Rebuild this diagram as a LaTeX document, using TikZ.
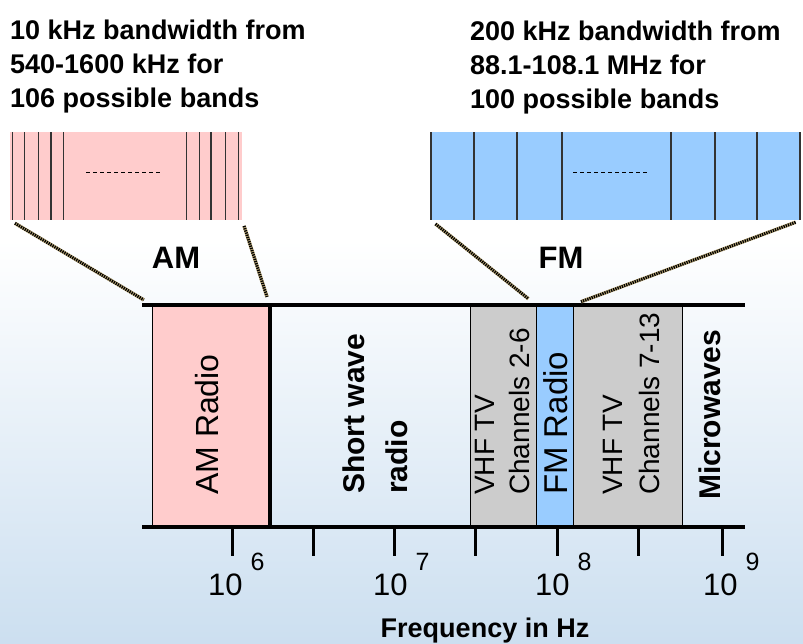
\documentclass[tikz,border=0pt]{standalone}
\usepackage{fontspec}
\setmainfont{Liberation Sans}
\usetikzlibrary{arrows.meta,positioning,calc}
\definecolor{amred}{RGB}{255,204,204}
\definecolor{fmblue}{RGB}{153,204,255}
\definecolor{tvgray}{RGB}{204,204,204}
\definecolor{bgblue}{RGB}{204,223,240}
\definecolor{shadetan}{RGB}{190,170,120}
\newcommand{\setfs}[2]{\fontsize{#1}{#2}\selectfont}
\newcommand{\tenpow}[1]{10\hspace{8pt}\raisebox{25pt}{\setfs{25}{25}#1}}
\tikzset{
  band/.style    ={draw, line width=1pt, inner sep=0pt, minimum height=222pt},
  zoombox/.style ={fill=#1, inner sep=0pt, minimum height=88pt},
  note/.style    ={align=left, inner sep=0pt, anchor=north west,
                   font=\bfseries\setfs{27}{34}},
  vlabel/.style  ={rotate=90, anchor=west, align=left, inner sep=0pt},
  axisline/.style={line width=4pt},
  ticksty/.style ={line width=3pt},
  chan/.style    ={line width=1.5pt, black!80},
  zoomline/.style={line width=3pt, dash pattern=on 1.3pt off 1pt,
                   preaction={draw, shadetan, line width=3.5pt, solid}},
}

\begin{document}
\begin{tikzpicture}[x=1pt,y=-1pt]
  \useasboundingbox (0,0) rectangle (803,643);
  % background
  \fill[white] (0,0) rectangle (803,240);
  \shade[top color=white, bottom color=bgblue] (0,240) rectangle (803,643);

  % notes on top
  \node[note] (amnote) at (10,19.3) {10 kHz bandwidth from\\540-1600 kHz for\\106 possible bands};
  \node[note] (fmnote) at (470,20.3) {200 kHz bandwidth from\\88.1-108.1 MHz for\\100 possible bands};

  % zoomed strips
  \node[zoombox=amred,  minimum width=232pt] (amzoom) at (126,176) {};
  \node[zoombox=fmblue, minimum width=370pt] (fmzoom) at (616,176) {};
  \foreach \x in {12.7,24.3,38.3,51,63.3,186.7,199.3,211,225.7,238.3}
    \draw[chan] (\x,132) -- (\x,220);
  \foreach \x in {431,474,517,562,671,715,757,800}
    \draw[chan] (\x,132) -- (\x,220);
  \draw[dash pattern=on 4pt off 3pt, line width=1pt] (86,172) -- (160,172);
  \draw[dash pattern=on 4pt off 3pt, line width=1pt] (573,172) -- (647,172);

  \node[font=\bfseries\setfs{31}{31}] (amlbl) at (176,258) {AM};
  \node[font=\bfseries\setfs{31}{31}] (fmlbl) at (561,258) {FM};

  % spectrum bands
  \node[band, fill=amred,  minimum width=117pt] (am)   at (210.5,416) {};
  \node[band,              minimum width=201pt] (sw)   at (369.5,416) {};
  \node[band, fill=tvgray, minimum width=66pt]  (vhfa) at (503,416) {};
  \node[band, fill=fmblue, minimum width=37pt]  (fm)   at (554.5,416) {};
  \node[band, fill=tvgray, minimum width=109pt] (vhfb) at (627.5,416) {};
  \draw[line width=4pt] (am.north east) -- (am.south east);

  \coordinate (topl) at (142,305);
  \coordinate (topr) at (745,305);
  \coordinate (botl) at (142,527);
  \coordinate (botr) at (745,527);
  \draw[axisline] (topl) -- (topr);
  \draw[axisline] (botl) -- (botr);

  % zoom connectors
  \draw[zoomline, shorten <=6pt, shorten >=9pt] (amzoom.south west) -- (am.north west);
  \draw[zoomline, shorten <=6pt, shorten >=8pt] (amzoom.south east) -- (am.north east);
  \draw[zoomline, shorten <=6pt, shorten >=9pt] (fmzoom.south west) -- (fm.north west);
  \draw[zoomline, shorten <=6pt, shorten >=8pt] (fmzoom.south east) -- (fm.north east);

  % band labels
  \node[vlabel, font=\setfs{32}{32}] (amtxt) at (207,495) {AM Radio};
  \node[vlabel, font=\bfseries\setfs{30}{43}] (swtxt) at (375,494) {Short wave\\radio};
  \node[vlabel, font=\setfs{28}{35}] (vhfatxt) at (502.5,495) {VHF TV\\Channels 2-6};
  \node[vlabel, font=\setfs{33}{33}] (fmtxt) at (556,495) {FM Radio};
  \node[vlabel, font=\setfs{28}{37}] (vhfbtxt) at (631,495) {VHF TV\\Channels 7-13};
  \node[vlabel, font=\bfseries\setfs{30}{30}] (mwtxt) at (710,500) {Microwaves};

  % ticks and scale
  \foreach \x in {232,313,394,475,557,638,722}
    \draw[ticksty] (\x,527) -- (\x,556);
  \node[anchor=base west, inner sep=0pt, font=\setfs{31}{31}] (pwa) at (208,595) {\tenpow{6}};
  \node[anchor=base west, inner sep=0pt, font=\setfs{31}{31}] (pwb) at (373,595) {\tenpow{7}};
  \node[anchor=base west, inner sep=0pt, font=\setfs{31}{31}] (pwc) at (535,595) {\tenpow{8}};
  \node[anchor=base west, inner sep=0pt, font=\setfs{31}{31}] (pwd) at (703,595) {\tenpow{9}};
  \node[anchor=base, inner sep=0pt, font=\bfseries\setfs{27}{27}] (xlabel) at (485,637) {Frequency in Hz};
\end{tikzpicture}
\end{document}
